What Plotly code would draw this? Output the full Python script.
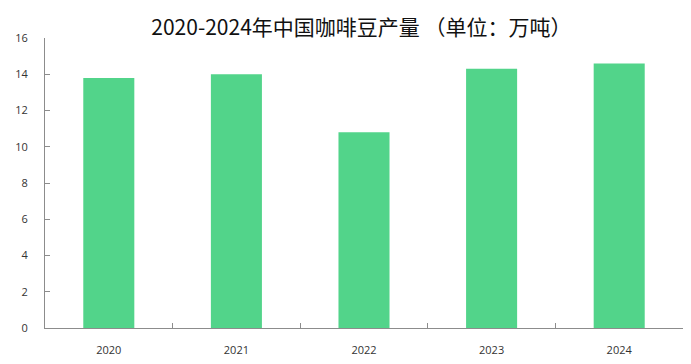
import plotly.graph_objects as go

years = ["2020", "2021", "2022", "2023", "2024"]
production = [13.8, 14.0, 10.8, 14.3, 14.6]
y_ticks = [0, 2, 4, 6, 8, 10, 12, 14, 16]
title_text = "2020-2024年中国咖啡豆产量 （单位：万吨）"

fig = go.Figure(
    go.Bar(x=years, y=production, marker=dict(color="#52D48A", line=dict(width=0)), width=0.4)
)

fig.update_layout(
    width=691, height=364,
    margin=dict(l=45, r=8, t=38, b=36),
    paper_bgcolor="white", plot_bgcolor="white",
    showlegend=False,
    title=dict(text=title_text, x=0.523, xanchor="center", y=0.925, yanchor="middle",
               font=dict(family="Noto Sans CJK SC", size=21, color="#111")),
    font=dict(family="Open Sans", size=11, color="#333"),
)
fig.update_xaxes(
    type="category", showline=True, linecolor="#8c8c8c", linewidth=1,
    ticks="inside", tickson="boundaries", ticklen=5, tickcolor="#8c8c8c",
    showgrid=False, tickfont=dict(size=11, color="#333"), ticklabelstandoff=12,
)
fig.update_yaxes(
    range=[0, 16], tickvals=y_ticks, showline=True, linecolor="#8c8c8c", linewidth=1,
    ticks="inside", ticklen=5, tickcolor="#8c8c8c", showgrid=False, zeroline=False,
    tickfont=dict(size=11, color="#333"), ticklabelstandoff=14,
)

fig.write_html("out.html")
